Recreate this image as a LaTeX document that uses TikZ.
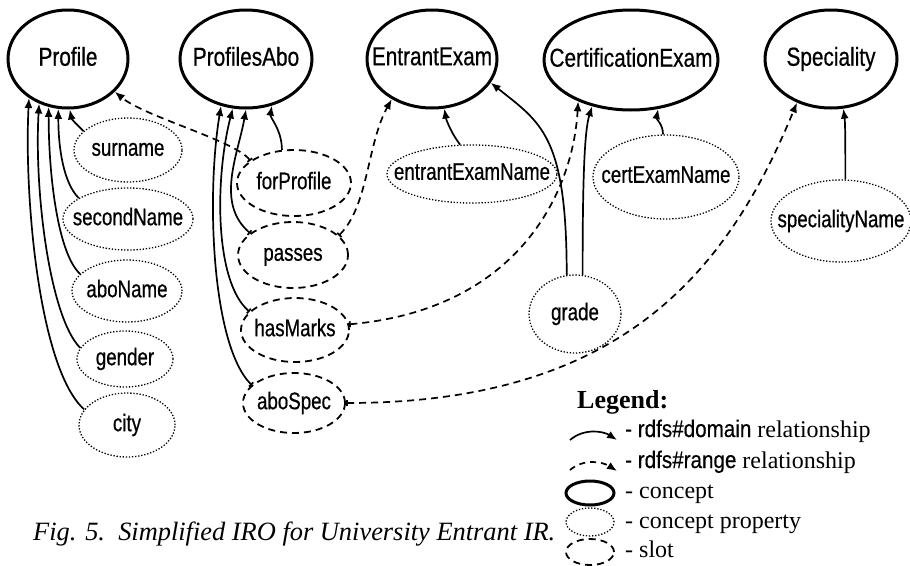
\documentclass[tikz,border=0pt]{standalone}
\usepackage{fontspec}
\setmainfont{Liberation Serif}
\newfontfamily\narrowsans[FakeStretch=0.80,FakeBold=0.6]{Liberation Sans}
\newfontfamily\narrowsansb[FakeStretch=0.78,FakeBold=0.6]{Liberation Sans}
\newfontfamily\legendsans[FakeStretch=0.86,FakeBold=0.4]{Liberation Sans}
\usetikzlibrary{shapes.geometric,arrows.meta}
\newcommand\conceptfont{\narrowsans\fontsize{26}{30}\selectfont}
\newcommand\propfont{\narrowsansb\fontsize{24}{28}\selectfont}
\newcommand\legsans{\legendsans\fontsize{24}{28}\selectfont}
% zero-width labels so each ellipse keeps its given size
\newcommand\ctext[1]{\makebox[0pt]{#1\vphantom{Pg}}}
\newcommand\ptext[1]{\makebox[0pt]{\raisebox{-5pt}{#1\vphantom{Pg}}}}

\tikzset{
  concept/.style={ellipse, draw, line width=3pt, inner sep=0pt, font=\conceptfont},
  prop/.style={ellipse, draw, line width=1.3pt, dash pattern=on 1.3pt off 1.8pt, inner sep=0pt, font=\propfont},
  slotbox/.style={ellipse, draw, line width=1.8pt, dash pattern=on 7pt off 5pt, inner sep=0pt, font=\propfont},
  domarrow/.style={line width=1.7pt, arrows={-Latex[length=10pt,width=8pt]}},
  domarrowbar/.style={line width=1.7pt, arrows={Bar[width=6pt]-Latex[length=10pt,width=8pt]}},
  rngarrow/.style={domarrowbar, dash pattern=on 7pt off 5pt},
  legtext/.style={anchor=base west, font=\fontsize{24}{28}\selectfont, inner sep=0pt},
}

\begin{document}
\begin{tikzpicture}[x=1pt, y=-1pt]
\useasboundingbox (0,0) rectangle (910,565);

% concepts
\node[concept, minimum width=120pt, minimum height=98pt] (Profile) at (68,59) {\ctext{Profile}};
\node[concept, minimum width=132pt, minimum height=98pt] (ProfilesAbo) at (246,59) {\ctext{ProfilesAbo}};
\node[concept, minimum width=130pt, minimum height=98pt] (EntrantExam) at (432,59) {\ctext{EntrantExam}};
\node[concept, minimum width=174pt, minimum height=100pt] (CertificationExam) at (631,60) {\ctext{CertificationExam}};
\node[concept, minimum width=132pt, minimum height=98pt] (Speciality) at (831,59) {\ctext{Speciality}};

% concept properties
\node[prop, minimum width=108pt, minimum height=64pt] (surname) at (128,150) {\ptext{surname}};
\node[prop, minimum width=130pt, minimum height=62pt] (secondName) at (128,219) {\ptext{secondName}};
\node[prop, minimum width=110pt, minimum height=62pt] (aboName) at (127,291) {\ptext{aboName}};
\node[prop, minimum width=96pt, minimum height=56pt] (gender) at (125,359) {\ptext{gender}};
\node[prop, minimum width=96pt, minimum height=64pt] (city) at (127,425) {\ptext{city}};
\node[prop, minimum width=170pt, minimum height=58pt] (entrantExamName) at (472,174) {\ptext{entrantExamName}};
\node[prop, minimum width=146pt, minimum height=84pt] (certExamName) at (666,177) {\ptext{certExamName}};
\node[prop, minimum width=140pt, minimum height=82pt] (specialityName) at (841,221) {\ptext{specialityName}};
\node[prop, minimum width=92pt, minimum height=78pt] (grade) at (575,314) {\ptext{grade}};

% slots
\node[slotbox, minimum width=114pt, minimum height=66pt] (forProfile) at (294,183) {\ptext{forProfile}};
\node[slotbox, minimum width=110pt, minimum height=66pt] (passes) at (293,255) {\ptext{passes}};
\node[slotbox, minimum width=108pt, minimum height=64pt] (hasMarks) at (295,330) {\ptext{hasMarks}};
\node[slotbox, minimum width=102pt, minimum height=60pt] (aboSpec) at (294,403) {\ptext{aboSpec}};

% rdfs#domain links
\draw[domarrow] (surname.157) .. controls +(-8,-8) and +(2,10) .. (Profile.-88);
\draw[domarrow] (secondName.157) .. controls +(-15,-15) and +(0,40) .. (Profile.-101);
\draw[domarrow] (aboName.160) .. controls +(-22,-20) and +(0,70) .. (Profile.-112);
\draw[domarrow] (gender.166) .. controls +(-30,-30) and +(-5,90) .. (Profile.-123);
\draw[domarrow] (city.160) .. controls +(-45,-40) and +(-5,100) .. (Profile.-135);

\draw[domarrow] (forProfile.110) .. controls +(0,-20) and +(-2,12) .. (ProfilesAbo.-61);
\draw[domarrowbar] (passes.153) .. controls +(-35,-30) and +(-8,45) .. (ProfilesAbo.-90);
\draw[domarrowbar] (hasMarks.158) .. controls +(-35,-30) and +(-18,70) .. (ProfilesAbo.-105);
\draw[domarrowbar] (aboSpec.157) .. controls +(-40,-40) and +(-15,90) .. (ProfilesAbo.-118);

\draw[domarrow] (entrantExamName.112) .. controls +(-8,-10) and +(2,12) .. (EntrantExam.-76);
\draw[domarrow] (grade.102) .. controls +(0,-140) and +(50,40) .. (EntrantExam.-22);
\draw[domarrow] (grade.79) .. controls +(0,-90) and +(-8,25) .. (CertificationExam.-130);
\draw[domarrow] (certExamName.94) .. controls +(0,-10) and +(-2,10) .. (CertificationExam.-61);
\draw[domarrow] (specialityName.84) .. controls +(0,-25) and +(2,15) .. (Speciality.-76);

% rdfs#range links
\draw[rngarrow] (forProfile.153) .. controls +(-15,-20) and +(30,25) .. (Profile.-35);
\draw[rngarrow] (passes.23) .. controls +(30,-30) and +(-25,45) .. (EntrantExam.-135);
\draw[rngarrow] (hasMarks.6) .. controls +(170,-15) and +(-5,90) .. (CertificationExam.-142);
\draw[rngarrow] (aboSpec.0) .. controls +(275,0) and +(-70,170) .. (Speciality.-128);

% legend
\node[anchor=base west, inner sep=0pt, font=\bfseries\fontsize{26}{30}\selectfont] (legend) at (577,408) {Legend:};
\coordinate (d1) at (570,440);
\coordinate (d2) at (617,440);
\draw[domarrow] (d1) .. controls +(14,-12) and +(-14,-9) .. (d2);
\coordinate (r1) at (570,470);
\coordinate (r2) at (617,471);
\draw[domarrow, dash pattern=on 6pt off 5pt] (r1) .. controls +(14,-12) and +(-14,-9) .. (r2);
\node[ellipse, draw, line width=3pt, minimum width=48pt, minimum height=24pt, inner sep=0pt] (legconcept) at (590,493) {};
\node[ellipse, draw, line width=1.3pt, dash pattern=on 1.3pt off 1.8pt, minimum width=48pt, minimum height=28pt, inner sep=0pt] (legprop) at (590,522) {};
\node[ellipse, draw, line width=1.8pt, dash pattern=on 7pt off 5pt, minimum width=48pt, minimum height=26pt, inner sep=0pt] (legslot) at (590,552) {};

\node[legtext] (t1) at (625,437) {{\legsans - rdfs\#domain} relationship};
\node[legtext] (t2) at (625,468) {{\legsans - rdfs\#range} relationship};
\node[legtext] (t3) at (625,498) {- concept};
\node[legtext] (t4) at (625,528) {- concept property};
\node[legtext] (t5) at (625,557) {- slot};

% caption
\node[anchor=base west, inner sep=0pt, font=\itshape\fontsize{26.4}{30}\selectfont] (caption) at (33,540) {Fig. 5.\ \ Simplified IRO for University Entrant IR.};
\end{tikzpicture}
\end{document}
